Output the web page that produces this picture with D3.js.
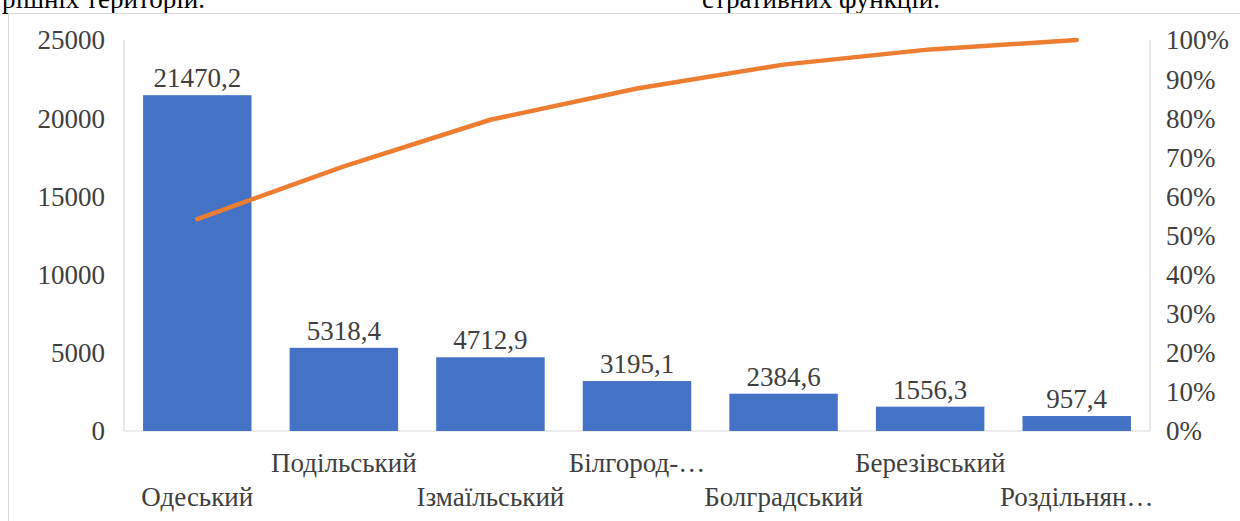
<!DOCTYPE html>
<html>
<head>
<meta charset="utf-8">
<script src="https://cdn.jsdelivr.net/npm/d3@7"></script>
<style>
  body { margin: 0; background: #fff; overflow: hidden; }
  text { font-family: "Liberation Serif", "Times New Roman", serif; fill: #404040; }
</style>
</head>
<body>
<div id="chart"></div>
<script>
// data
var districts = ["Одеський", "Подільський", "Ізмаїльський", "Білгород-…", "Болградський", "Березівський", "Роздільнян…"];
var values = [21470.2, 5318.4, 4712.9, 3195.1, 2384.6, 1556.3, 957.4];
var valueLabels = ["21470,2", "5318,4", "4712,9", "3195,1", "2384,6", "1556,3", "957,4"];
var cumulativePct = [0.542, 0.677, 0.796, 0.876, 0.937, 0.976, 1.0];
var leftTicks = [0, 5000, 10000, 15000, 20000, 25000];
var rightTicks = [0, 0.1, 0.2, 0.3, 0.4, 0.5, 0.6, 0.7, 0.8, 0.9, 1.0];

var W = 1240, H = 521;
var svg = d3.select("#chart").append("svg").attr("width", W).attr("height", H);

// bits of the surrounding document text, cut by the top edge
svg.append("text").attr("x", 205).attr("y", 8).attr("text-anchor", "end")
  .style("font-size", "27px").style("fill", "#000").text("внутрішніх територій.");
svg.append("text").attr("x", 940).attr("y", 8).attr("text-anchor", "end")
  .style("font-size", "27px").style("fill", "#000").text("стративних функцій.");

// chart frame
svg.append("rect").attr("x", 8.5).attr("y", 13.5).attr("width", W).attr("height", H)
  .attr("fill", "none").attr("stroke", "#d9d9d9").attr("stroke-width", 1);

var plotL = 124, plotR = 1150, plotT = 40, plotB = 431;

var x = d3.scaleBand().domain(districts).range([plotL, plotR]).paddingInner(0.26).paddingOuter(0.13);
var y = d3.scaleLinear().domain([0, 25000]).range([plotB, plotT]);
var yPct = d3.scaleLinear().domain([0, 1]).range([plotB, plotT]);

// axis lines
var g = svg.append("g").attr("stroke", "#d9d9d9").attr("stroke-width", 1.2);
g.append("line").attr("x1", plotL).attr("x2", plotL).attr("y1", plotT).attr("y2", plotB);
g.append("line").attr("x1", plotR).attr("x2", plotR).attr("y1", plotT).attr("y2", plotB);
g.append("line").attr("x1", plotL).attr("x2", plotR).attr("y1", plotB).attr("y2", plotB);

// left axis labels
svg.selectAll(".ly").data(leftTicks).enter().append("text")
  .attr("x", 105).attr("y", function (d) { return y(d); })
  .attr("dy", "0.35em").attr("text-anchor", "end")
  .style("font-size", "27px").text(function (d) { return d; });

// right axis labels
svg.selectAll(".ry").data(rightTicks).enter().append("text")
  .attr("x", 1166).attr("y", function (d) { return yPct(d); })
  .attr("dy", "0.35em")
  .style("font-size", "27px").text(d3.format(".0%"));

// bars
svg.selectAll(".bar").data(values).enter().append("rect")
  .attr("x", function (d, i) { return x(districts[i]); })
  .attr("y", function (d) { return y(d); })
  .attr("width", x.bandwidth())
  .attr("height", function (d) { return plotB - y(d); })
  .attr("fill", "#4472c4");

// value labels
svg.selectAll(".vl").data(values).enter().append("text")
  .attr("x", function (d, i) { return x(districts[i]) + x.bandwidth() / 2; })
  .attr("y", function (d) { return y(d) - 8; })
  .attr("text-anchor", "middle")
  .style("font-size", "27px").text(function (d, i) { return valueLabels[i]; });

// category labels, staggered in two rows
svg.selectAll(".cl").data(districts).enter().append("text")
  .attr("x", function (d) { return x(d) + x.bandwidth() / 2; })
  .attr("y", function (d, i) { return i % 2 === 1 ? 463 : 497; })
  .attr("dy", "0.35em").attr("text-anchor", "middle")
  .style("font-size", "27px").text(function (d) { return d; });

// cumulative line
var line = d3.line()
  .x(function (d, i) { return x(districts[i]) + x.bandwidth() / 2; })
  .y(function (d) { return yPct(d); });
svg.append("path").datum(cumulativePct)
  .attr("d", line).attr("fill", "none")
  .attr("stroke", "#ed7d31").attr("stroke-width", 4.5)
  .attr("stroke-linecap", "round").attr("stroke-linejoin", "round");
</script>
</body>
</html>
